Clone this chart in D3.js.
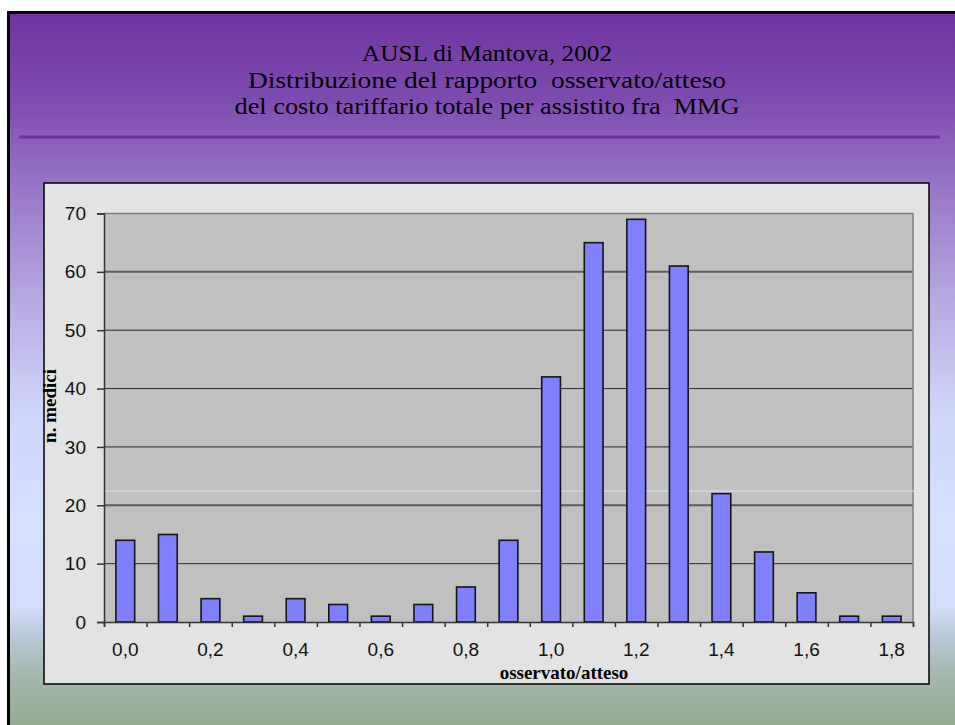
<!DOCTYPE html>
<html>
<head>
<meta charset="utf-8">
<script src="https://cdn.jsdelivr.net/npm/d3@7"></script>
<style>
  html, body { margin: 0; padding: 0; background: #ffffff; }
  svg { display: block; }
</style>
</head>
<body>
<svg id="chart" width="955" height="725"></svg>
<script>
// ---- data ----
const titleLines = [
  "AUSL di Mantova, 2002",
  "Distribuzione del rapporto  osservato/atteso",
  "del costo tariffario totale per assistito fra  MMG"
];
const categories = ["0,0","0,1","0,2","0,3","0,4","0,5","0,6","0,7","0,8","0,9",
                    "1,0","1,1","1,2","1,3","1,4","1,5","1,6","1,7","1,8"];
const counts = [14, 15, 4, 1, 4, 3, 1, 3, 6, 14, 42, 65, 69, 61, 22, 12, 5, 1, 1];
const yTicks = [0, 10, 20, 30, 40, 50, 60, 70];
const xLabelCats = ["0,0","0,2","0,4","0,6","0,8","1,0","1,2","1,4","1,6","1,8"];
const yTitle = "n. medici";
const xTitle = "osservato/atteso";

// ---- layout ----
const W = 955, H = 725;
const box = {x0: 44, y0: 183, x1: 929, y1: 684};
const plot = {x0: 104, y0: 213.5, x1: 913, y1: 622};
const titleWidths = [250, 478, 505];

const svg = d3.select("#chart");
const defs = svg.append("defs");

// slide background gradient
const bg = defs.append("linearGradient").attr("id", "bg")
  .attr("x1", 0).attr("y1", 0).attr("x2", 0).attr("y2", 1);
[[0, "#7132a0"], [0.12, "#7e4cb0"], [0.25, "#9a78c8"], [0.40, "#b8aae2"],
 [0.55, "#cfd6fa"], [0.70, "#d5e0ff"], [0.82, "#d4defa"], [0.86, "#b9c8d8"],
 [0.92, "#a3b6aa"], [1, "#91a98c"]]
  .forEach(([o, c]) => bg.append("stop").attr("offset", o).attr("stop-color", c));

svg.append("rect").attr("x", 0).attr("y", 0).attr("width", W).attr("height", H).attr("fill", "#ffffff");
svg.append("rect").attr("x", 8.5).attr("y", 12.5).attr("width", W).attr("height", H)
  .attr("fill", "url(#bg)").attr("stroke", "#000").attr("stroke-width", 3);

// title
const title = svg.append("g")
  .attr("font-family", "'Liberation Serif', 'Times New Roman', serif")
  .attr("font-size", 24).attr("fill", "#000").attr("text-anchor", "middle");
title.selectAll("text").data(titleLines).join("text")
  .attr("x", 487).attr("y", (d, i) => 61 + i * 26.5)
  .attr("xml:space", "preserve")
  .style("white-space", "pre")
  .attr("textLength", (d, i) => titleWidths[i])
  .attr("lengthAdjust", "spacingAndGlyphs")
  .text(d => d);

// purple rule under title
svg.append("line").attr("x1", 19).attr("x2", 940).attr("y1", 137).attr("y2", 137)
  .attr("stroke", "#7030a0").attr("stroke-width", 3);

// chart box
svg.append("rect").attr("x", box.x0).attr("y", box.y0)
  .attr("width", box.x1 - box.x0).attr("height", box.y1 - box.y0)
  .attr("fill", "#e3e3e3").attr("stroke", "#000").attr("stroke-width", 1.5);

// scales
const x = d3.scaleBand().domain(categories).range([plot.x0, plot.x1])
  .paddingInner(0.56).paddingOuter(0.28);
const xEdge = d3.scaleLinear().domain([0, categories.length]).range([plot.x0, plot.x1]);
const y = d3.scaleLinear().domain([0, 70]).range([plot.y1, plot.y0]);

// plot area
svg.append("rect").attr("x", plot.x0).attr("y", plot.y0)
  .attr("width", plot.x1 - plot.x0).attr("height", plot.y1 - plot.y0)
  .attr("fill", "#c0c0c0");

// gridlines
svg.append("g").selectAll("line").data(yTicks.filter(v => v > 0 && v < 70)).join("line")
  .attr("x1", plot.x0).attr("x2", plot.x1)
  .attr("y1", d => y(d)).attr("y2", d => y(d))
  .attr("stroke", d => (d === 20 || d === 60) ? "#5c5c5c" : "#2a2a2a")
  .attr("stroke-width", d => (d === 20 || d === 60) ? 2 : 1);
// top and right border of plot
svg.append("path")
  .attr("d", `M${plot.x0},${y(70)}H${plot.x1}V${plot.y1}`)
  .attr("fill", "none").attr("stroke", "#808080").attr("stroke-width", 1.5);

// faint light line across the chart box
svg.append("line").attr("x1", box.x0 + 1).attr("x2", box.x1 - 1)
  .attr("y1", 491).attr("y2", 491)
  .attr("stroke", "#dde5fa").attr("stroke-width", 1);

// bars
svg.append("g").selectAll("rect").data(categories).join("rect")
  .attr("x", d => x(d))
  .attr("y", (d, i) => y(counts[i]))
  .attr("width", x.bandwidth())
  .attr("height", (d, i) => y(0) - y(counts[i]))
  .attr("fill", "#8080ff")
  .attr("stroke", "#151515").attr("stroke-width", 1.6);

// y axis
const yAxis = svg.append("g").attr("transform", `translate(${plot.x0},0)`)
  .call(d3.axisLeft(y).tickValues(yTicks).tickSize(7).tickPadding(11).tickFormat(d3.format("d")));
yAxis.select(".domain").attr("stroke", "#333").attr("stroke-width", 1.5);
yAxis.selectAll(".tick line").attr("stroke", "#333").attr("stroke-width", 1.5);
yAxis.selectAll("text").attr("font-family", "'Liberation Sans', Arial, sans-serif")
  .attr("font-size", 19).attr("fill", "#111");

// x axis: boundary ticks
const xTickAxis = svg.append("g").attr("transform", `translate(0,${plot.y1})`)
  .call(d3.axisBottom(xEdge).tickValues(d3.range(categories.length + 1)).tickSize(5).tickFormat(""));
xTickAxis.select(".domain").attr("stroke", "#333").attr("stroke-width", 1.5);
xTickAxis.selectAll(".tick line").attr("stroke", "#333").attr("stroke-width", 1.5);

// x axis labels
const xLab = svg.append("g").attr("transform", `translate(0,${plot.y1})`)
  .call(d3.axisBottom(x).tickValues(xLabelCats).tickSize(0).tickPadding(21));
xLab.select(".domain").remove();
xLab.selectAll("text").attr("font-family", "'Liberation Sans', Arial, sans-serif")
  .attr("font-size", 19).attr("fill", "#111");

// axis titles
svg.append("text").attr("transform", "translate(56,406) rotate(-90)")
  .attr("text-anchor", "middle")
  .attr("font-family", "'Liberation Serif', 'Times New Roman', serif")
  .attr("font-weight", "bold").attr("font-size", 19).attr("fill", "#000")
  .text(yTitle);
svg.append("text").attr("x", 564).attr("y", 679)
  .attr("text-anchor", "middle")
  .attr("font-family", "'Liberation Serif', 'Times New Roman', serif")
  .attr("font-weight", "bold").attr("font-size", 19).attr("fill", "#000")
  .text(xTitle);
</script>
</body>
</html>
